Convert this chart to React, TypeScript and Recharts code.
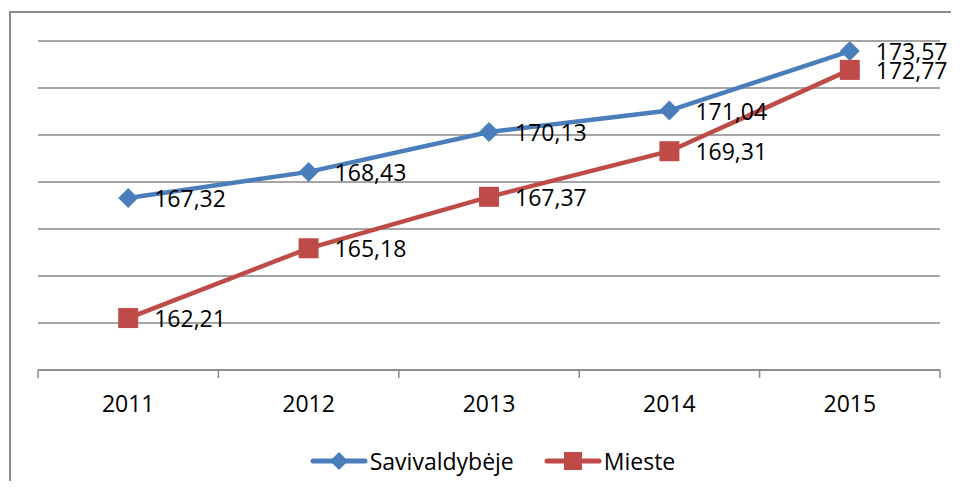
import { LineChart, Line, XAxis, YAxis, CartesianGrid, Legend, LabelList } from 'recharts'

const years = ['2011', '2012', '2013', '2014', '2015']
const savivaldybeje = [167.32, 168.43, 170.13, 171.04, 173.57]
const mieste = [162.21, 165.18, 167.37, 169.31, 172.77]
const yTicks = [160, 162, 164, 166, 168, 170, 172, 174]

const data = years.map((year, i) => ({ year, sav: savivaldybeje[i], mie: mieste[i] }))

const BLUE = '#4A7EBB'
const RED = '#BE4B48'
const GRID = '#878787'
const FONT = '"Open Sans", "Noto Sans", sans-serif'

const W = 940
const H = 468
const M = { top: 28, right: 11, bottom: 5, left: 27 }
const BAND = (W - M.left - M.right) / years.length
const MARK = 10

function Diamond({ cx, cy }: { cx?: number; cy?: number }) {
  if (cx === undefined || cy === undefined) return null
  return <polygon points={`${cx},${cy - MARK} ${cx + MARK},${cy} ${cx},${cy + MARK} ${cx - MARK},${cy}`} fill={BLUE} />
}

function Square({ cx, cy }: { cx?: number; cy?: number }) {
  if (cx === undefined || cy === undefined) return null
  return <rect x={cx - MARK} y={cy - MARK} width={MARK * 2} height={MARK * 2} fill={RED} />
}

function YearTick(props: any) {
  const { x, y, payload, index } = props
  return (
    <g>
      <line x1={x - BAND / 2} y1={y} x2={x - BAND / 2} y2={y + 8} stroke={GRID} strokeWidth={1.5} />
      {index === years.length - 1 && (
        <line x1={x + BAND / 2} y1={y} x2={x + BAND / 2} y2={y + 8} stroke={GRID} strokeWidth={1.5} />
      )}
      <text x={x} y={y + 36} textAnchor="middle" dominantBaseline="middle" fontSize={23} fill="#000" fontFamily={FONT}>
        {payload.value}
      </text>
    </g>
  )
}

function ValueLabel(props: any) {
  const { x, y, value } = props
  return (
    <text x={x + 26} y={y + 3} dominantBaseline="middle" fontSize={23} fill="#000" fontFamily={FONT}>
      {Number(value).toFixed(2).replace('.', ',')}
    </text>
  )
}

function LegendBox() {
  const item = (label: string, color: string, marker: 'diamond' | 'square') => (
    <div style={{ display: 'flex', alignItems: 'center' }}>
      <svg width={58} height={24}>
        <line x1={3} y1={12} x2={55} y2={12} stroke={color} strokeWidth={5} strokeLinecap="round" />
        {marker === 'diamond' ? (
          <polygon points="29,3 38,12 29,21 20,12" fill={color} />
        ) : (
          <rect x={20} y={3} width={18} height={18} fill={color} />
        )}
      </svg>
      <span style={{ marginLeft: 2 }}>{label}</span>
    </div>
  )
  return (
    <div
      style={{
        display: 'flex',
        justifyContent: 'center',
        gap: 30,
        height: 30,
        alignItems: 'center',
        fontFamily: FONT,
        fontSize: 23,
        color: '#000',
        paddingLeft: 23,
      }}
    >
      {item('Savivaldybėje', BLUE, 'diamond')}
      {item('Mieste', RED, 'square')}
    </div>
  )
}

export default function App() {
  return (
    <div
      style={{
        marginLeft: 1,
        marginTop: 3,
        width: W,
        height: H,
        borderLeft: '2px solid #8c8c8c',
        borderTop: '2px solid #8c8c8c',
        background: '#fff',
      }}
    >
      <LineChart width={W} height={H} data={data} margin={M}>
        <CartesianGrid vertical={false} stroke={GRID} strokeWidth={1.5} />
        <XAxis
          dataKey="year"
          height={76}
          padding={{ left: BAND / 2, right: BAND / 2 }}
          tickSize={0}
          tickMargin={0}
          tickLine={false}
          axisLine={{ stroke: GRID, strokeWidth: 1.5 }}
          tick={<YearTick />}
          interval={0}
        />
        <YAxis hide domain={[160, 174]} ticks={yTicks} type="number" allowDataOverflow />
        <Legend
          verticalAlign="bottom"
          content={() => <LegendBox />}
          wrapperStyle={{ left: 0, width: W, bottom: M.bottom }}
        />
        <Line
          dataKey="sav"
          name="Savivaldybėje"
          stroke={BLUE}
          strokeWidth={4.5}
          dot={<Diamond />}
          activeDot={false}
          isAnimationActive={false}
        >
          <LabelList dataKey="sav" content={<ValueLabel />} />
        </Line>
        <Line
          dataKey="mie"
          name="Mieste"
          stroke={RED}
          strokeWidth={4.5}
          dot={<Square />}
          activeDot={false}
          isAnimationActive={false}
        >
          <LabelList dataKey="mie" content={<ValueLabel />} />
        </Line>
      </LineChart>
    </div>
  )
}
